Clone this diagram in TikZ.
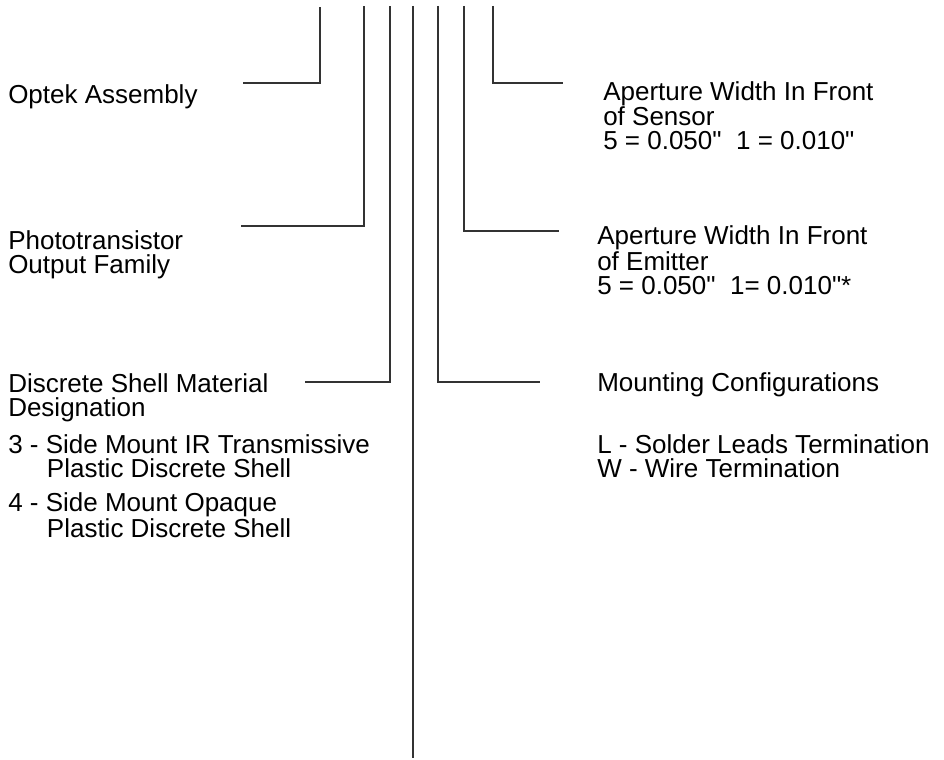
\documentclass[tikz,border=0pt]{standalone}
\usepackage{fontspec}
\setmainfont{Liberation Sans}
\newcommand{\inch}{\textquotedbl}
\tikzset{
  lbl/.style={anchor=base west, align=left, inner sep=0pt,
    font=\fontsize{19.5}{18}\selectfont},
  lead/.style={line width=1.3pt, draw=black!80}
}
\begin{document}
\begin{tikzpicture}[x=0.75pt,y=-0.75pt]
\useasboundingbox (0,0) rectangle (944,759);
% left side (base = last line)
\node[lbl] (optek) at (8,104) {Optek Assembly};
\node[lbl] (family) at (8,273) {Phototransistor\\Output Family};
\node[lbl] (shell) at (8,416) {Discrete Shell Material\\Designation};
\node[lbl] (three) at (8,477) {3 - Side Mount IR Transmissive\\\hspace*{29pt}Plastic Discrete Shell};
\node[lbl] (four) at (8,537) {4 - Side Mount Opaque\\\hspace*{29pt}Plastic Discrete Shell};
% right side
\node[lbl] (sensor) at (603,150) {Aperture Width In Front\\of Sensor\\5 = 0.050\inch\ \ 1 = 0.010\inch};
\node[lbl] (emitter) at (597,294) {Aperture Width In Front\\of Emitter\\5 = 0.050\inch\ \ 1= 0.010\inch*};
\node[lbl] (mount) at (597,391) {Mounting Configurations};
\node[lbl] (leads) at (597,477) {L - Solder Leads Termination\\W - Wire Termination};
% leaders
\draw[lead] (243,83) -- (320,83) -- (320,7);
\draw[lead] (241,226) -- (364,226) -- (364,6);
\draw[lead] (305,382) -- (390,382) -- (390,6);
\draw[lead] (413,6) -- (413,758);
\draw[lead] (438,6) -- (438,382) -- (540,382);
\draw[lead] (464,6) -- (464,231) -- (559,231);
\draw[lead] (493,6) -- (493,83) -- (563,83);
\end{tikzpicture}
\end{document}
